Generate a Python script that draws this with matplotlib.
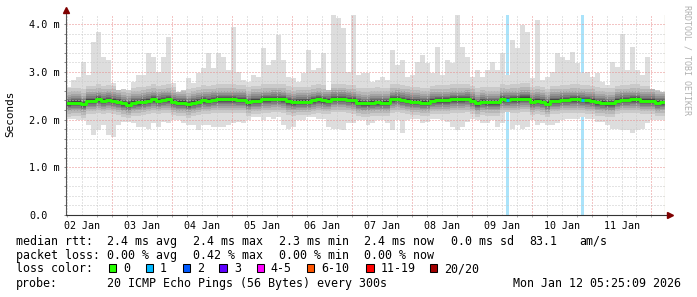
import numpy as np
import matplotlib
matplotlib.use('Agg')
import matplotlib.pyplot as plt
import matplotlib.dates as mdates
from matplotlib.patches import Rectangle
from datetime import datetime, timedelta

W, H, DPI = 697, 297, 100

# ---------------- data ----------------
t_start = datetime(2026, 1, 2, 5, 25, 9)
t_end = datetime(2026, 1, 12, 5, 25, 9)
step_hours = 2  # one bar per 2 hours, 120 bars

median_ms = [
    2.34, 2.35, 2.35, 2.32, 2.39, 2.39, 2.42, 2.39, 2.41, 2.39, 2.37, 2.34, 2.31, 2.35, 2.36,
    2.37, 2.39, 2.42, 2.39, 2.41, 2.42, 2.37, 2.35, 2.35, 2.32, 2.35, 2.37, 2.40, 2.39, 2.41,
    2.42, 2.42, 2.42, 2.42, 2.41, 2.41, 2.36, 2.39, 2.39, 2.42, 2.42, 2.43, 2.43, 2.42, 2.38,
    2.36, 2.37, 2.37, 2.37, 2.40, 2.42, 2.40, 2.39, 2.43, 2.43, 2.43, 2.41, 2.40, 2.35, 2.34,
    2.34, 2.35, 2.36, 2.35, 2.35, 2.42, 2.43, 2.41, 2.39, 2.37, 2.37, 2.35, 2.35, 2.39, 2.40,
    2.40, 2.40, 2.42, 2.42, 2.42, 2.43, 2.39, 2.34, 2.37, 2.36, 2.36, 2.36, 2.42, 2.41, 2.42,
    2.42, 2.44, 2.44, 2.37, 2.39, 2.37, 2.33, 2.39, 2.39, 2.41, 2.41, 2.42, 2.42, 2.41, 2.40,
    2.39, 2.36, 2.35, 2.34, 2.34, 2.39, 2.41, 2.41, 2.42, 2.42, 2.39, 2.39, 2.39, 2.35, 2.36,
]
max_ms = [
    2.69, 2.83, 2.90, 3.21, 2.93, 3.63, 3.84, 3.30, 3.25, 2.76, 2.62, 2.65, 2.62, 2.79, 2.93,
    2.93, 3.39, 3.32, 3.00, 3.32, 3.73, 2.76, 2.58, 2.62, 2.86, 2.76, 2.97, 3.07, 3.39, 3.07,
    3.39, 3.32, 3.04, 3.94, 3.00, 2.83, 2.79, 2.93, 2.90, 3.49, 3.14, 3.25, 3.77, 3.25, 2.90,
    2.86, 2.79, 2.97, 3.46, 3.04, 3.07, 3.39, 2.62, 4.19, 4.12, 3.91, 3.00, 4.19, 2.93, 2.97,
    2.97, 2.79, 2.83, 2.90, 2.83, 3.46, 3.14, 3.25, 2.90, 2.93, 3.21, 3.35, 3.18, 2.97, 3.53,
    2.93, 3.25, 3.18, 4.19, 3.53, 3.32, 2.90, 3.04, 2.90, 3.04, 3.21, 3.04, 3.39, 2.93, 3.67,
    3.50, 3.98, 3.83, 2.86, 4.08, 2.83, 2.90, 3.00, 3.39, 3.32, 3.25, 3.42, 3.18, 2.97, 3.00,
    2.90, 2.97, 2.79, 2.72, 3.21, 3.11, 3.80, 3.04, 3.53, 3.04, 2.93, 3.32, 2.65, 2.62, 2.58,
]
min_ms = [
    2.02, 2.02, 1.99, 1.99, 1.88, 1.67, 1.78, 1.88, 1.67, 1.64, 1.88, 1.95, 1.95, 1.92, 1.85,
    1.85, 1.81, 1.92, 1.85, 1.95, 1.92, 1.99, 1.99, 1.92, 1.88, 1.88, 1.78, 1.88, 1.88, 1.85,
    1.85, 1.85, 1.88, 1.92, 1.95, 1.92, 1.99, 2.06, 2.06, 1.99, 2.06, 2.02, 2.06, 1.88, 1.81,
    1.85, 1.99, 1.99, 2.06, 2.06, 2.02, 2.02, 1.85, 1.81, 1.81, 1.78, 1.92, 1.92, 1.99, 1.99,
    1.88, 1.92, 1.99, 1.99, 1.92, 1.78, 1.99, 1.71, 1.99, 2.02, 2.02, 1.92, 1.95, 2.02, 2.02,
    1.99, 1.95, 1.85, 1.78, 1.85, 1.95, 2.02, 1.99, 1.92, 1.92, 1.99, 1.85, 1.92, 2.16, 1.81,
    1.88, 1.81, 1.85, 1.99, 1.88, 1.92, 1.88, 1.88, 1.92, 1.99, 2.02, 2.02, 2.02, 2.06, 2.02,
    2.02, 1.95, 1.95, 1.88, 1.81, 1.81, 1.78, 1.78, 1.71, 1.78, 1.81, 1.92, 1.99, 1.99, 1.99,
]
loss_count = [0] * 88 + [1] + [0] * 14 + [1] + [0] * 16

# spread of inner ping pairs (2nd .. 9th) around the median, ms
band_up_offset = [0.32, 0.24, 0.18, 0.14, 0.10, 0.07, 0.05, 0.03]
band_down_offset = [0.28, 0.22, 0.17, 0.13, 0.10, 0.07, 0.05, 0.03]

y_ticks = [0, 1, 2, 3, 4]
y_tick_labels = ['0.0', '1.0 m', '2.0 m', '3.0 m', '4.0 m']
day_labels = ['02 Jan', '03 Jan', '04 Jan', '05 Jan', '06 Jan',
              '07 Jan', '08 Jan', '09 Jan', '10 Jan', '11 Jan']

loss_labels = ['0', '1', '2', '3', '4-5', '6-10', '11-19', '20/20']
loss_colors = ['#26ff00', '#00b8ff', '#0059ff', '#5e00ff', '#ff00ff', '#ff5500', '#ff0000', '#a10000']

row1 = [('median rtt:', 16), ('2.4 ms avg', 107.3), ('2.4 ms max', 193.3), ('2.3 ms min', 279.3),
        ('2.4 ms now', 364.3), ('0.0 ms sd', 451), ('83.1', 529.7), ('am/s', 579.3)]
row2 = [('packet loss:', 16), ('0.00 % avg', 107.3), ('0.42 % max', 193.3),
        ('0.00 % min', 279.3), ('0.00 % now', 364.3)]
row4 = [('probe:', 16), ('20 ICMP Echo Pings (56 Bytes) every 300s', 107.3),
        ('Mon Jan 12 05:25:09 2026', 513)]
box_x = [108.7, 146, 182.7, 219.3, 256.7, 306.7, 366.3, 429.7]
lab_x = [123.3, 160, 197.3, 234, 270.7, 321.7, 380.3, 444.3]

# ---------------- figure ----------------
MONO = 'DejaVu Sans Mono'
plt.rcParams['font.family'] = [MONO]
fig = plt.figure(figsize=(W / DPI, H / DPI), dpi=DPI, facecolor='white')
L, R, T, B = 66, 665, 15, 215
ax = fig.add_axes([L / W, 1 - B / H, (R - L) / W, (B - T) / H])
ax.set_facecolor('white')

n = len(median_ms)
edges = mdates.date2num([t_start + timedelta(hours=step_hours * k) for k in range(n + 1)])
centers = (edges[:-1] + edges[1:]) / 2

med = np.array(median_ms)
hi = np.array(max_ms)
lo = np.array(min_ms)

def ext(a):
    return np.append(a, a[-1])

# loss background
half_w = 0.6 / 24.0
for c, lc in zip(centers, loss_count):
    if lc > 0:
        ax.axvspan(c - half_w, c + half_w, color='#aae3fa', lw=0, zorder=0.5)

# smoke bands
half = 10
greys = ['#%02x%02x%02x' % ((int(190 / half * (half - i)) + 50,) * 3) for i in range(1, half)]
ax.fill_between(edges, ext(lo), ext(hi), step='post', color=greys[0], lw=0, zorder=1)
for k in range(len(band_up_offset)):
    top = np.minimum(med + band_up_offset[k], hi)
    bot = np.maximum(med - band_down_offset[k], lo)
    ax.fill_between(edges, ext(bot), ext(top), step='post', color=greys[k + 1], lw=0, zorder=1)

# grid
x0 = mdates.date2num(t_start)
x1 = mdates.date2num(t_end)
ax.set_xlim(x0, x1)
ax.set_ylim(0, 4.19)
grid_ls = (0, (1, 2))
d0 = datetime(2026, 1, 2)
for h in range(0, 24 * 11, 6):
    xv = mdates.date2num(d0 + timedelta(hours=h))
    if x0 < xv < x1:
        major = (h % 24 == 0)
        ax.axvline(xv, color='#e88a8a' if major else '#c8c8c8', lw=0.72,
                   ls=grid_ls, zorder=2)
for k in range(1, 21):
    yv = k * 0.2
    major = (k % 5 == 0)
    ax.axhline(yv, color='#e88a8a' if major else '#c8c8c8', lw=0.72, ls=grid_ls, zorder=2)

# median
ax.step(edges, ext(med), where='post', color=loss_colors[0], lw=2.1, zorder=3)
for c, m, lc in zip(centers, med, loss_count):
    if lc > 0:
        ax.hlines(m, c - half_w, c + half_w, color=loss_colors[1], lw=2.1, zorder=3.5)

# right border line
ax.axvline(x1, color='#c9c5a0', lw=0.9, zorder=3)

# axes, ticks
for s in ax.spines.values():
    s.set_visible(False)
ax.plot([0, 0], [0, 1.015], transform=ax.transAxes, color='#555555', lw=0.8, clip_on=False, zorder=4)
ax.plot([0, 1.005], [0, 0], transform=ax.transAxes, color='#333333', lw=0.8, clip_on=False, zorder=4)
ax.plot([0], [1.025], marker='^', ms=4, color='#7f0000', transform=ax.transAxes, clip_on=False, zorder=5)
ax.plot([1.009], [0], marker='>', ms=4, color='#7f0000', transform=ax.transAxes, clip_on=False, zorder=5)

ax.set_yticks(y_ticks)
ax.set_yticklabels(y_tick_labels, fontsize=7.3, family=MONO)
ax.set_yticks(np.arange(0.2, 4.19, 0.2), minor=True)
ax.tick_params(axis='y', which='both', length=1.5, width=0.7, color='#888888', direction='out')
ax.tick_params(axis='y', which='major', pad=25.2)
for lbl in ax.get_yticklabels():
    lbl.set_horizontalalignment('left')

noon = [mdates.date2num(d0 + timedelta(days=k, hours=12)) for k in range(len(day_labels))]
ax.set_xticks(noon)
ax.set_xticklabels(day_labels, fontsize=7.2, family=MONO)
ax.tick_params(axis='x', which='major', length=0, pad=4.5)
six = [mdates.date2num(d0 + timedelta(hours=h)) for h in range(6, 24 * 11, 6)
       if x0 < mdates.date2num(d0 + timedelta(hours=h)) < x1]
ax.set_xticks(six, minor=True)
ax.tick_params(axis='x', which='minor', length=1.5, width=0.7, color='#aaaaaa', direction='out')

# labels
def fx(x):
    return x / W

def fy(y):
    return 1 - y / H

fig.text(fx(10.7), fy(114), 'Seconds', rotation=90, ha='center', va='center',
         fontsize=7.9, family=MONO)
fig.text(fx(687), fy(60), 'RRDTOOL / TOBI OETIKER', rotation=270, ha='center', va='center',
         fontsize=6, family=MONO, color='#b0b0b0')

LF = 8.4
for txt, x in row1:
    fig.text(fx(x), fy(241.3), txt, ha='left', va='center', fontsize=LF, family=MONO)
for txt, x in row2:
    fig.text(fx(x), fy(255.3), txt, ha='left', va='center', fontsize=LF, family=MONO)
fig.text(fx(16), fy(269), 'loss color:', ha='left', va='center', fontsize=LF, family=MONO)
for lbl, col, bx, lx in zip(loss_labels, loss_colors, box_x, lab_x):
    fig.add_artist(Rectangle((fx(bx), fy(272)), 7.3 / W, 8 / H, transform=fig.transFigure,
                             facecolor=col, edgecolor='black', lw=0.75))
    fig.text(fx(lx), fy(269), lbl, ha='left', va='center', fontsize=LF, family=MONO)
for txt, x in row4:
    fig.text(fx(x), fy(283.3), txt, ha='left', va='center', fontsize=LF, family=MONO)

fig.savefig('out.png', dpi=DPI, facecolor='white')
